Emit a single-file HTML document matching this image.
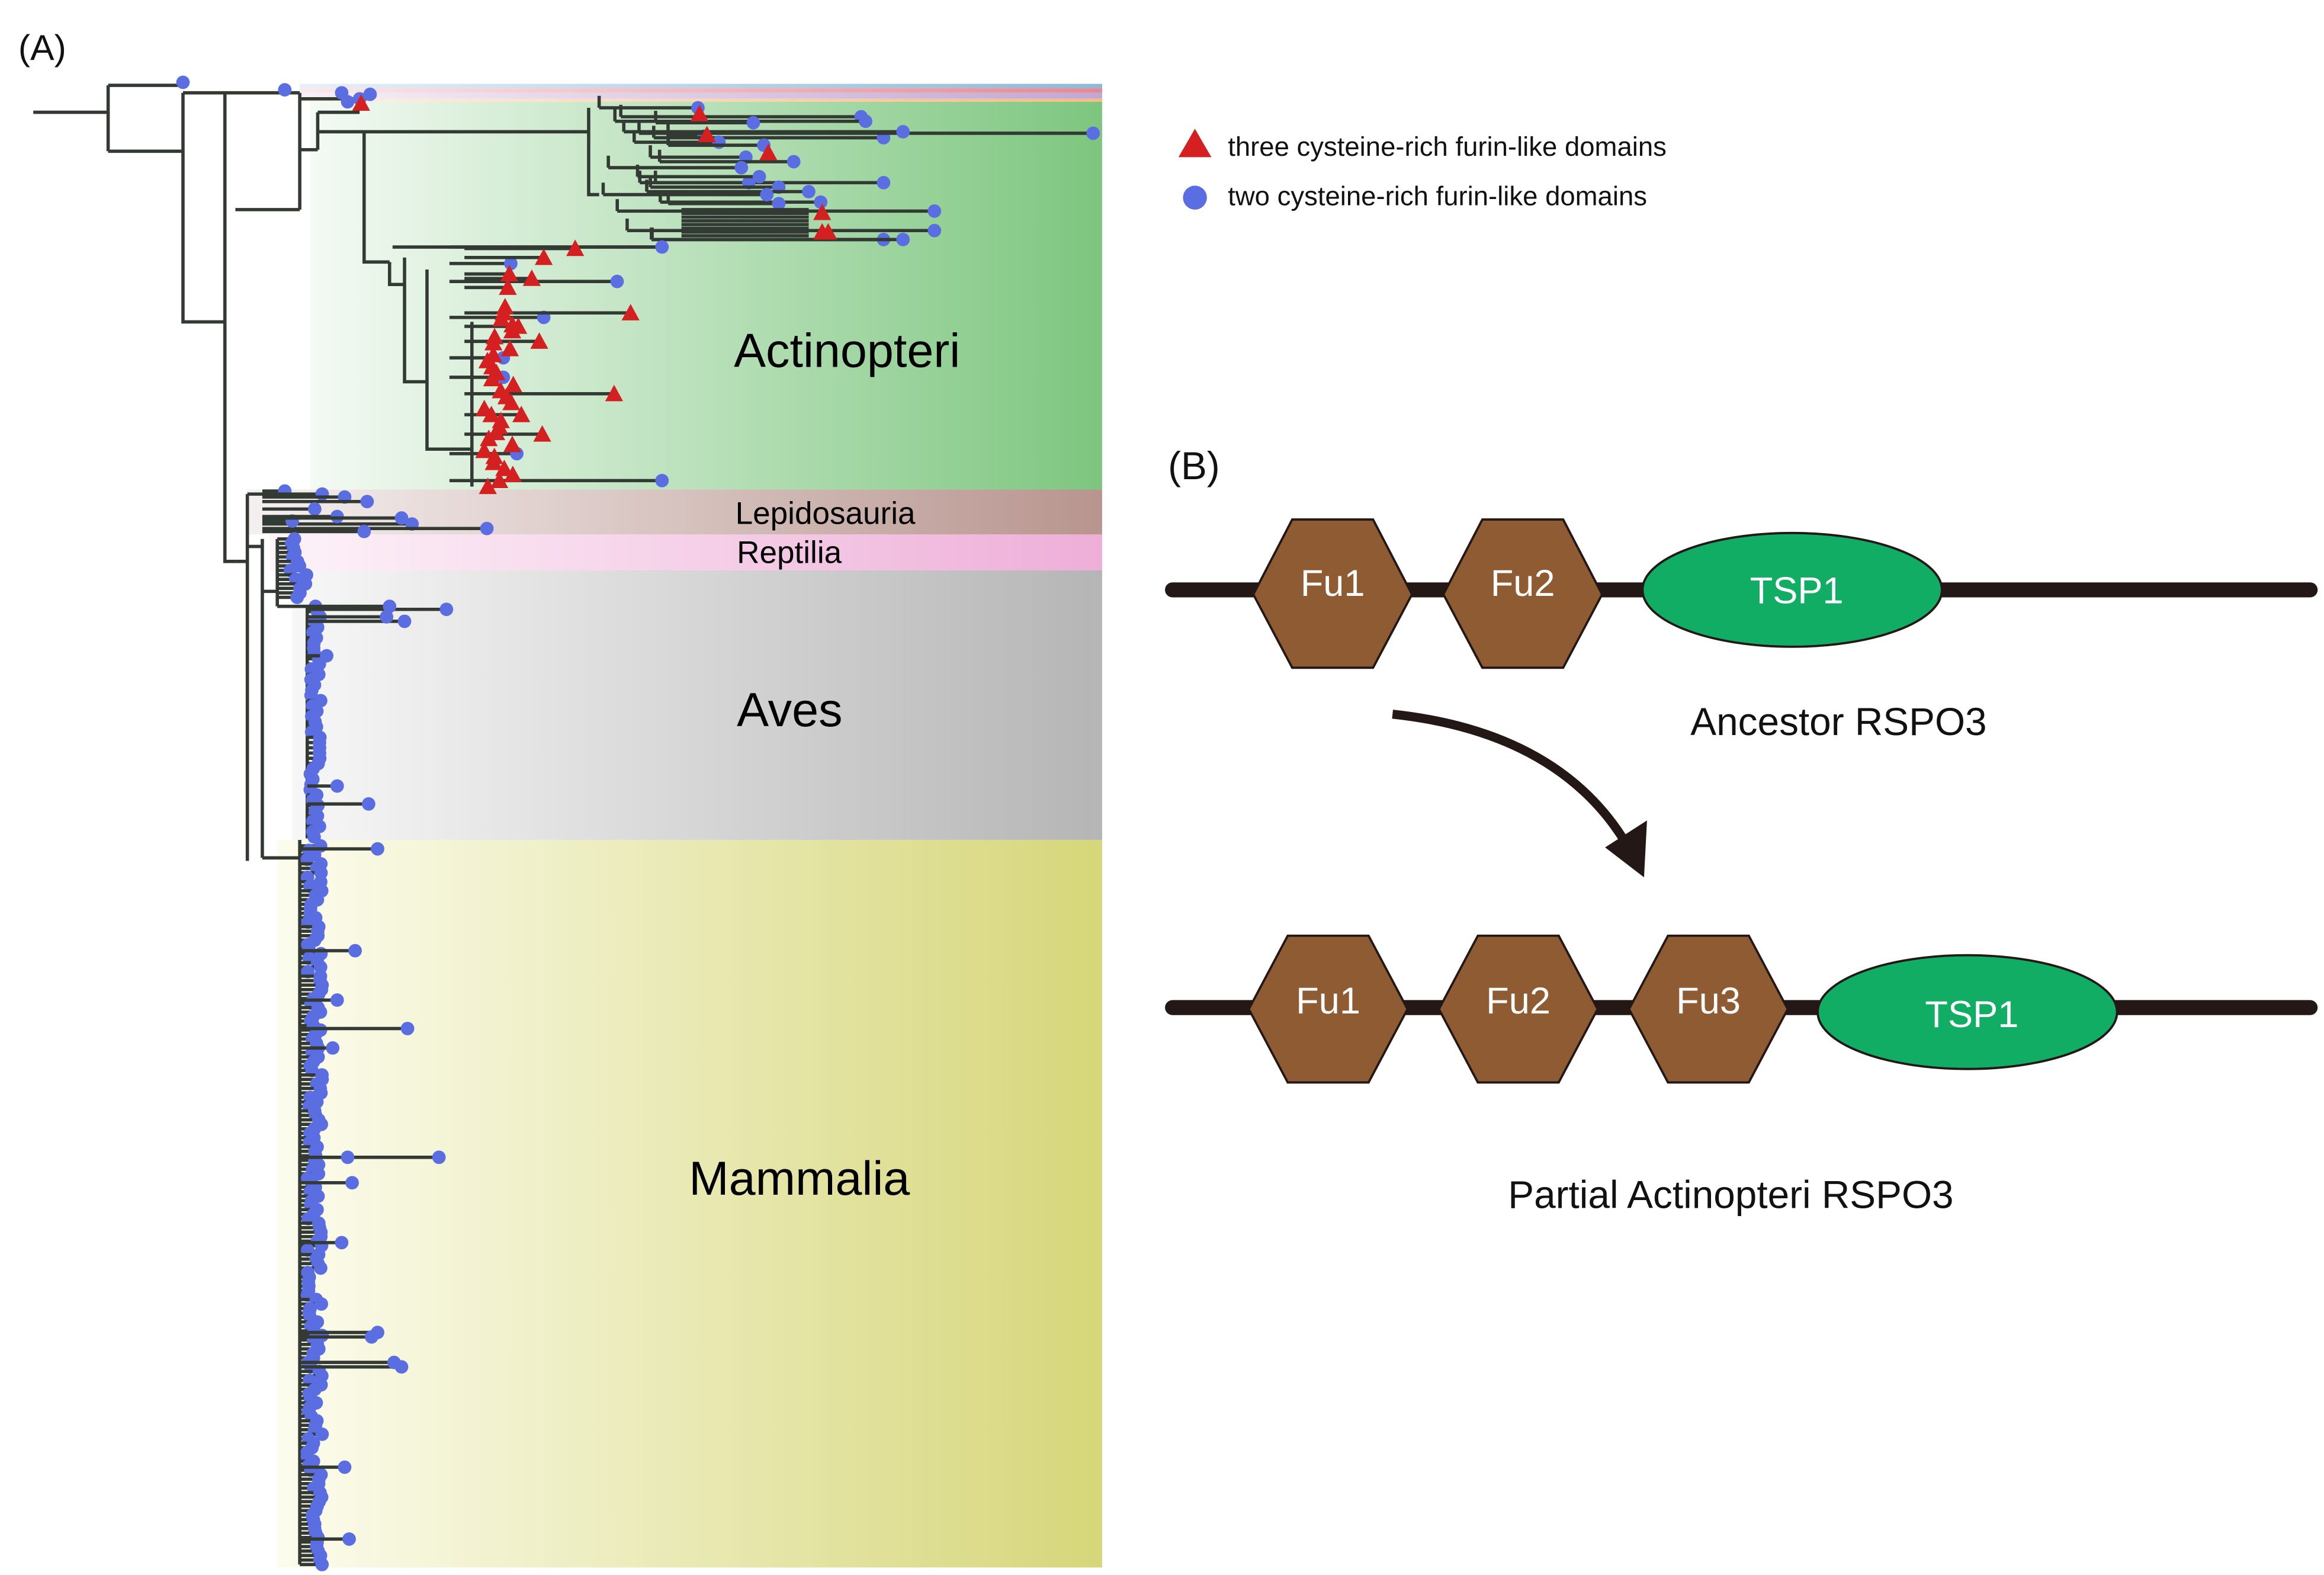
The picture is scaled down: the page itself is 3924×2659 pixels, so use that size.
<!DOCTYPE html>
<html><head><meta charset="utf-8"><style>
html,body{margin:0;padding:0;background:#fff;}
svg{display:block;}
text{font-family:"Liberation Sans",Arial,sans-serif;}
</style></head><body>
<svg id="s" width="3924" height="2659" viewBox="0 0 1552 1052" xmlns="http://www.w3.org/2000/svg">
<defs>
<linearGradient id="gA" x1="0" x2="1"><stop offset="0" stop-color="#f4faf4"/><stop offset="1" stop-color="#7dc67f"/></linearGradient>
<linearGradient id="gL" x1="0" x2="1"><stop offset="0" stop-color="#f5f0f0"/><stop offset="1" stop-color="#b8958e"/></linearGradient>
<linearGradient id="gR" x1="0" x2="1"><stop offset="0" stop-color="#fdf3f9"/><stop offset="1" stop-color="#eeaed8"/></linearGradient>
<linearGradient id="gV" x1="0" x2="1"><stop offset="0" stop-color="#f7f7f7"/><stop offset="1" stop-color="#b5b5b5"/></linearGradient>
<linearGradient id="gM" x1="0" x2="1"><stop offset="0" stop-color="#fcfcee"/><stop offset="1" stop-color="#d6d67a"/></linearGradient>
<linearGradient id="gT1" x1="0" x2="1"><stop offset="0" stop-color="#e6f0f8"/><stop offset="1" stop-color="#8fb8d8"/></linearGradient>
<linearGradient id="gT2" x1="0" x2="1"><stop offset="0" stop-color="#fbe8ec"/><stop offset="1" stop-color="#e88890"/></linearGradient>
<linearGradient id="gT3" x1="0" x2="1"><stop offset="0" stop-color="#f6f0f8"/><stop offset="1" stop-color="#c0a8d4"/></linearGradient>
<linearGradient id="gT4" x1="0" x2="1"><stop offset="0" stop-color="#fdf2e6"/><stop offset="1" stop-color="#f8bb80"/></linearGradient>
</defs>
<rect x="200" y="56" width="536" height="3" fill="url(#gT1)"/>
<rect x="200" y="59" width="536" height="3" fill="url(#gT2)"/>
<rect x="200" y="62" width="536" height="4" fill="url(#gT3)"/>
<rect x="200" y="66" width="536" height="2" fill="url(#gT4)"/>
<rect x="207" y="68" width="529" height="259" fill="url(#gA)"/>
<rect x="165" y="327" width="571" height="30" fill="url(#gL)"/>
<rect x="180" y="357" width="556" height="24" fill="url(#gR)"/>
<rect x="195" y="381" width="541" height="180" fill="url(#gV)"/>
<rect x="185" y="561" width="551" height="486" fill="url(#gM)"/>
<g id="tree" stroke="#333a33" stroke-width="2.2" fill="none">
<path d="M22 75H72M72 57V101M72 57H122M72 101H122M122 101V62M122 62H190M122 101V215H150M150 215V62H200M150 140V375H157M157 140H200"/>
<path d="M200 62V140M200 66H245M200 100H212M212 75V100M212 75H240M212 88H243M243 88V175H260M243 88H393M393 72V130H400"/>
<path d="M260 175V190H270M262 165H440M270 172V255H285M285 180V300H315M315 215V325"/>
<path d="M157 375H165M165 330V575M165 330H190M165 365H175M175 360V573M175 573H200M175 395H185M185 360V405M185 405H205M200 561V1045M205 405V560"/>
</g>
<g id="dyn"></g>
<text x="12" y="40" font-size="24" fill="#111">(A)</text>
<text x="490" y="245" font-size="32" fill="#000">Actinopteri</text>
<text x="491" y="350" font-size="21" fill="#000">Lepidosauria</text>
<text x="492" y="376" font-size="21" fill="#000">Reptilia</text>
<text x="492" y="485" font-size="32" fill="#000">Aves</text>
<text x="460" y="798" font-size="32" fill="#000">Mammalia</text>
<polygon points="798,86 809,105 787,105" fill="#d42020"/>
<text x="820" y="104" font-size="18" fill="#111">three cysteine-rich furin-like domains</text>
<circle cx="798" cy="132" r="8" fill="#5b6ee1"/>
<text x="820" y="137" font-size="18" fill="#111">two cysteine-rich furin-like domains</text>
<text x="780" y="320" font-size="26" fill="#111">(B)</text>
<line x1="783" y1="394" x2="1543" y2="394" stroke="#231815" stroke-width="10" stroke-linecap="round"/>
<g fill="#8f5b33" stroke="#231815" stroke-width="1.5">
<polygon points="863,347 917,347 943,397 917,446 863,446 837,397"/>
<polygon points="990,347 1044,347 1070,397 1044,446 990,446 964,397"/>
</g>
<ellipse cx="1197" cy="394" rx="100" ry="38" fill="#12ad64" stroke="#231815" stroke-width="1.5"/>
<g fill="#fff" font-size="25" text-anchor="middle">
<text x="890" y="398">Fu1</text><text x="1017" y="398">Fu2</text><text x="1200" y="403">TSP1</text>
</g>
<text x="1228" y="491" font-size="26" fill="#111" text-anchor="middle">Ancestor RSPO3</text>
<path d="M930 477 Q1050 490 1093 576" fill="none" stroke="#231815" stroke-width="6"/>
<polygon points="1072,566 1100,548 1098,586" fill="#231815"/>
<line x1="783" y1="673" x2="1543" y2="673" stroke="#231815" stroke-width="10" stroke-linecap="round"/>
<g fill="#8f5b33" stroke="#231815" stroke-width="1.5">
<polygon points="860,625 914,625 940,674 914,723 860,723 834,674"/>
<polygon points="987,625 1041,625 1067,674 1041,723 987,723 961,674"/>
<polygon points="1114,625 1168,625 1194,674 1168,723 1114,723 1088,674"/>
</g>
<ellipse cx="1314" cy="676" rx="100" ry="38" fill="#12ad64" stroke="#231815" stroke-width="1.5"/>
<g fill="#fff" font-size="25" text-anchor="middle">
<text x="887" y="677">Fu1</text><text x="1014" y="677">Fu2</text><text x="1141" y="677">Fu3</text><text x="1317" y="686">TSP1</text>
</g>
<text x="1156" y="807" font-size="26" fill="#111" text-anchor="middle">Partial Actinopteri RSPO3</text>
</svg>
<script>
(function(){
var g=document.getElementById('dyn'),NS='http://www.w3.org/2000/svg',seed=7;
function r(){seed=(seed*16807)%2147483647;return seed/2147483647;}
function el(n,a){var e=document.createElementNS(NS,n);for(var k in a)e.setAttribute(k,a[k]);g.appendChild(e);}
function ln(x1,y,x2){el('line',{x1:x1,y1:y,x2:x2,y2:y,stroke:'#333a33','stroke-width':2.2});}
function dot(x,y){el('circle',{cx:x,cy:y,r:4.5,fill:'#5b6ee1'});}
function tri(x,y){el('polygon',{points:(x)+','+(y-6)+' '+(x+6)+','+(y+5)+' '+(x-6)+','+(y+5),fill:'#d42020'});}
var y,x;
dot(122,55);dot(190,60);dot(228,62);dot(232,68);dot(240,66);dot(247,63);tri(241,69);
var ud=[[466,72],[470,91],[575,78],[578,81],[590,92],[730,89],[603,88],[590,122],[503,82],[500,122],[520,125],[540,128],[548,135],[624,141],[624,154],[590,160],[603,160],[512,130],[498,105],[480,95],[510,97],[530,108],[495,112],[507,118],[520,136]];
ud.forEach(function(p){var s=400+r()*50;ln(s,p[1],p[0]);el('line',{x1:s,y1:p[1],x2:s,y2:p[1]-8,stroke:'#333a33','stroke-width':2.2});dot(p[0],p[1]);});
[[467,76],[472,90],[513,102],[549,142],[553,155],[549,155]].forEach(function(p){tri(p[0],p[1]);});
for(y=140;y<160;y+=2.5){ln(455,y,540);}
[[442,165],[412,188],[363,212],[442,321],[341,176],[336,252],[336,239],[345,303]].forEach(function(p){ln(300,p[1],p[0]);dot(p[0],p[1]);});
[[384,166],[363,172],[410,263],[421,209],[360,228],[362,290],[348,277],[355,186],[340,183],[339,192],[346,218]].forEach(function(p){ln(310,p[1],p[0]);tri(p[0],p[1]);});
for(y=205;y<326;y+=4){tri(322+r()*22,y);}
[[190,328],[215,330],[230,332],[245,335],[275,350],[325,353],[243,355],[195,348],[210,340],[225,345],[268,346]].forEach(function(p){ln(175,p[1],p[0]);dot(p[0],p[1]);});
for(y=360;y<400;y+=3){x=190+r()*16;ln(185,y,x);dot(x,y);}
for(y=405;y<560;y+=3.5){x=207+r()*7;ln(205,y,x);dot(x,y);}
[[298,407],[270,415],[260,405],[218,438],[246,537],[225,525],[258,412]].forEach(function(p){ln(205,p[1],p[0]);dot(p[0],p[1]);});
for(y=565;y<1046;y+=3){x=205+r()*10;ln(200,y,x);dot(x,y);}
[[272,687],[293,773],[237,635],[232,773],[228,830],[252,890],[268,913],[230,980],[233,1028],[252,567],[225,668],[222,700],[235,790],[248,893],[263,910]].forEach(function(p){ln(200,p[1],p[0]);dot(p[0],p[1]);});
})();
</script>
</body></html>
